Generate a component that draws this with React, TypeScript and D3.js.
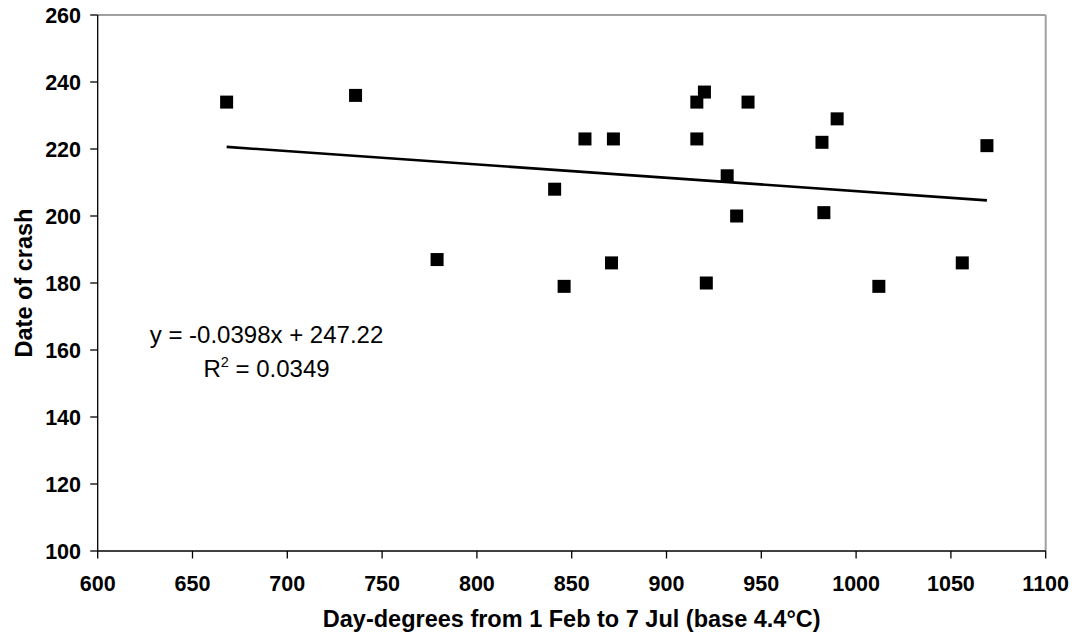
import React from "react";
import * as d3 from "d3";

const dayDegrees = [668, 736, 779, 841, 846, 857, 871, 872, 916, 916, 920, 921, 932, 937, 943, 982, 983, 990, 1012, 1056, 1069];
const crashDates = [234, 236, 187, 208, 179, 223, 186, 223, 234, 223, 237, 180, 212, 200, 234, 222, 201, 229, 179, 186, 221];
const xTicks = [600, 650, 700, 750, 800, 850, 900, 950, 1000, 1050, 1100];
const yTicks = [100, 120, 140, 160, 180, 200, 220, 240, 260];
const slope = -0.0398;
const intercept = 247.22;
const equationLabel = "y = -0.0398x + 247.22";
const r2Value = "0.0349";
const xTitle = "Day-degrees from 1 Feb to 7 Jul (base 4.4°C)";
const yTitle = "Date of crash";

const W = 1075;
const H = 638;
const L = 97.7, R = 1045.7, T = 15, B = 551;
const FONT = "Arial, 'Liberation Sans', Helvetica, sans-serif";

export default function App() {
  const x = d3.scaleLinear().domain([600, 1100]).range([L, R]);
  const y = d3.scaleLinear().domain([100, 260]).range([B, T]);
  const points = dayDegrees.map((d, i) => ({ x: d, y: crashDates[i] }));
  const [xmin, xmax] = d3.extent(dayDegrees) as [number, number];
  const trend = d3.line<number>().x((d) => x(d)).y((d) => y(slope * d + intercept));
  const ms = 13;
  return (
    <svg width={W} height={H} style={{ position: "absolute", left: 0, top: 0, background: "#fff" }} fontFamily={FONT}>
      <rect x={0} y={0} width={W} height={H} fill="#fff" />
      <line x1={L} x2={R} y1={T} y2={T} stroke="#a0a0a0" strokeWidth={2} />
      <line x1={R} x2={R} y1={T} y2={B} stroke="#a0a0a0" strokeWidth={2} />
      <line x1={L} x2={L} y1={T} y2={B} stroke="#000" strokeWidth={1.3} />
      <line x1={L} x2={R} y1={B} y2={B} stroke="#000" strokeWidth={1.3} />
      {yTicks.map((t) => (
        <g key={"y" + t}>
          <line x1={L - 7.5} x2={L} y1={y(t)} y2={y(t)} stroke="#000" strokeWidth={1.3} />
          <text x={81} y={y(t)} dy="0.36em" textAnchor="end" fontSize={21.5} fontWeight="bold" fill="#000">{t}</text>
        </g>
      ))}
      {xTicks.map((t) => (
        <g key={"x" + t}>
          <line x1={x(t)} x2={x(t)} y1={B} y2={B + 7.5} stroke="#000" strokeWidth={1.3} />
          <text x={x(t)} y={591} textAnchor="middle" fontSize={21.5} fontWeight="bold" fill="#000">{t}</text>
        </g>
      ))}
      <text x={(L + R) / 2} y={627} textAnchor="middle" fontSize={23.5} fontWeight="bold" fill="#000">{xTitle}</text>
      <text transform={`translate(31.5, ${(T + B) / 2}) rotate(-90)`} textAnchor="middle" fontSize={23.5} fontWeight="bold" fill="#000">{yTitle}</text>
      <path d={trend([xmin, xmax]) || ""} fill="none" stroke="#000" strokeWidth={2.6} />
      {points.map((p, i) => (
        <rect key={i} x={x(p.x) - ms / 2} y={y(p.y) - ms / 2} width={ms} height={ms} fill="#000" />
      ))}
      <text x={266.5} y={343} textAnchor="middle" fontSize={24} fill="#000">{equationLabel}</text>
      <text x={266.5} y={377} textAnchor="middle" fontSize={24} fill="#000">
        R<tspan dy={-10} fontSize={14.5}>2</tspan><tspan dy={10}>{" = " + r2Value}</tspan>
      </text>
    </svg>
  );
}
